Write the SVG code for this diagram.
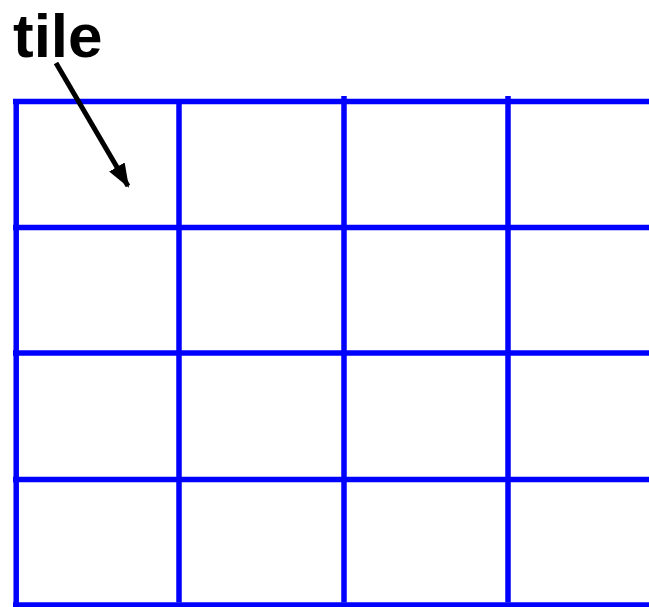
<svg xmlns="http://www.w3.org/2000/svg" width="649" height="607" viewBox="0 0 649 607">
<style>
.g{stroke:#0000ff;stroke-width:5.5;fill:none}
.lbl{font-family:"Liberation Sans",Arial,sans-serif;font-weight:bold;font-size:62px;fill:#000}
</style>
<defs>
<marker id="ah" markerUnits="userSpaceOnUse" markerWidth="24" markerHeight="18" refX="22" refY="9" orient="auto">
<path d="M0,0 L24,9 L0,18 Z" fill="#000"/>
</marker>
</defs>
<g id="grid">
<line class="g" x1="13" y1="101.5" x2="649" y2="101.5"/>
<line class="g" x1="13" y1="227.5" x2="649" y2="227.5"/>
<line class="g" x1="13" y1="353" x2="649" y2="353"/>
<line class="g" x1="13" y1="479.5" x2="649" y2="479.5"/>
<line class="g" x1="13" y1="605" x2="649" y2="605"/>
<line class="g" x1="16.2" y1="99" x2="16.2" y2="607"/>
<line class="g" x1="179" y1="99" x2="179" y2="602.5"/>
<line class="g" x1="344" y1="96" x2="344" y2="602.5"/>
<line class="g" x1="508" y1="96" x2="508" y2="602.5"/>
</g>
<g id="label">
<text class="lbl" x="13" y="57">tile</text>
</g>
<g id="connectors">
<line x1="56" y1="63" x2="128" y2="186" stroke="#000" stroke-width="5" marker-end="url(#ah)"/>
</g>
</svg>
